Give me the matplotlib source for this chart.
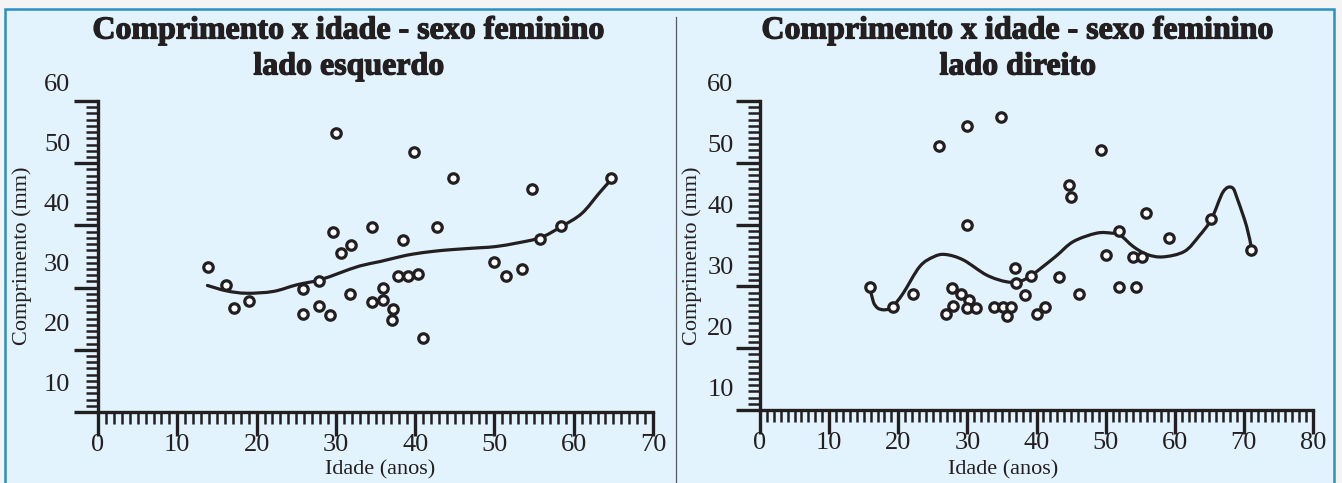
import matplotlib
matplotlib.use("Agg")
import matplotlib.pyplot as plt
from matplotlib.patches import Rectangle, PathPatch
from matplotlib.path import Path
from matplotlib.lines import Line2D
from matplotlib.ticker import FixedLocator, NullLocator
import matplotlib.patheffects as pe
import numpy as np

# ---------------- data ----------------
titles = ["Comprimento x idade - sexo feminino", "Comprimento x idade - sexo feminino"]
subtitles = ["lado esquerdo", "lado direito"]
xlabel = "Idade (anos)"
ylabel = "Comprimento (mm)"
y_tick_labels = [10, 20, 30, 40, 50, 60]
x_ticks_left = [0, 10, 20, 30, 40, 50, 60, 70]
x_ticks_right = [0, 10, 20, 30, 40, 50, 60, 70, 80]

left_age = [13.9, 16.2, 17.1, 19.0, 25.8, 25.8, 27.9, 27.9, 29.3, 29.7, 30.0, 30.7,
            31.9, 31.8, 34.6, 34.6, 36.0, 35.9, 37.2, 37.1, 38.5, 37.9, 39.1, 40.3,
            39.8, 41.0, 42.7, 44.8, 49.9, 51.5, 53.5, 54.7, 55.8, 58.4, 64.7]
left_len = [29.2, 26.2, 22.5, 23.6, 25.6, 21.4, 26.9, 22.7, 21.3, 35.2, 51.6, 31.6,
            32.9, 24.7, 35.9, 23.4, 25.8, 23.8, 22.3, 20.5, 33.8, 27.8, 27.8, 28.1,
            48.5, 17.5, 36.0, 44.2, 30.2, 27.7, 28.9, 42.3, 34.0, 36.1, 44.1]

left_curve_age = [13.8, 16.2, 18.75, 22.1, 25.05, 27.9, 30.5, 33.0, 35.6, 38.1, 39.8,
                  42.3, 44.8, 48.2, 50.2, 52.9, 55.85, 58.4, 61.0, 63.2, 64.4]
left_curve_len = [26.2, 25.3, 24.9, 25.2, 26.3, 27.1, 28.3, 29.45, 30.2, 31.0, 31.45,
                  31.9, 32.2, 32.5, 32.7, 33.3, 34.2, 36.0, 38.2, 41.6, 43.4]

right_age = [15.9, 19.2, 22.1, 25.9, 26.9, 27.8, 27.9, 29.1, 30.0, 29.9, 30.2, 29.9,
             31.2, 33.8, 34.9, 35.1, 36.3, 35.8, 36.9, 37.1, 38.3, 39.2, 40.1, 41.3,
             43.3, 44.7, 45.0, 46.2, 49.3, 50.1, 51.9, 52.0, 53.9, 54.4, 55.3, 55.8,
             59.1, 65.3, 71.1]
right_len = [26.4, 23.2, 25.3, 49.7, 22.0, 26.3, 23.3, 25.3, 53.0, 36.6, 24.3, 23.0,
             23.0, 23.1, 54.4, 23.1, 23.1, 21.7, 29.5, 27.1, 25.2, 28.3, 22.0, 23.2,
             28.1, 43.2, 41.2, 25.3, 49.0, 31.7, 26.4, 35.7, 31.3, 26.5, 31.3, 38.7,
             34.5, 37.6, 32.6]

right_curve_age = [15.9, 16.4, 17.0, 17.8, 18.6, 19.2, 20.7, 23.1, 25.1, 26.8, 29.4,
                   32.8, 35.7, 37.6, 39.2, 42.7, 45.3, 48.7, 50.9, 52.1, 54.0, 56.0,
                   58.3, 61.4, 63.5, 65.3, 67.0, 68.3, 69.1, 70.4, 71.1]
right_curve_len = [26.4, 24.0, 23.0, 22.7, 22.8, 23.2, 25.4, 29.8, 31.4, 31.8, 30.9,
                   28.4, 27.3, 27.4, 28.3, 31.4, 33.9, 35.3, 35.3, 35.0, 33.1, 31.8,
                   31.4, 32.3, 34.8, 37.6, 42.1, 42.8, 40.8, 36.4, 32.8]

# ---------------- style ----------------
W, H = 1342, 483
INK = "#231f20"
BG = "#e2f3fd"
FONT = "Liberation Serif"


def smooth_path(xs, ys):
    """Catmull-Rom curve through the read points, as cubic Bezier segments."""
    pts = np.column_stack([xs, ys]).astype(float)
    verts = [pts[0]]
    codes = [Path.MOVETO]
    n = len(pts)
    for k in range(n - 1):
        p0 = pts[k - 1] if k > 0 else pts[k]
        p1 = pts[k]
        p2 = pts[k + 1]
        p3 = pts[k + 2] if k + 2 < n else pts[k + 1]
        c1 = p1 + (p2 - p0) / 6.0
        c2 = p2 - (p3 - p1) / 6.0
        verts += [c1, c2, p2]
        codes += [Path.CURVE4] * 3
    return Path(np.array(verts), codes)


fig = plt.figure(figsize=(W / 100, H / 100), dpi=100)
fig.patch.set_facecolor("#f4f4f4")
bg = Rectangle((5 / W, -0.01), (1334 - 5) / W, (H - 9) / H + 0.01,
               transform=fig.transFigure, facecolor=BG,
               edgecolor="#2b8fc1", linewidth=1.8)
bg.set_zorder(-10)
fig.add_artist(bg)
div = Line2D([676 / W, 676 / W], [0, (H - 17) / H], transform=fig.transFigure,
             color="#555a60", linewidth=0.9)
div.set_zorder(-5)
fig.add_artist(div)

panels = [
    dict(x0=98, x1=653, xmax=70, xt=x_ticks_left, ybot_px=412, y10=382.5, y60=83,
         age=left_age, ln=left_len, cage=left_curve_age, cln=left_curve_len,
         tcx=349, ylab_x=22, xlab_x=380, lab_gap=20),
    dict(x0=760, x1=1313, xmax=80, xt=x_ticks_right, ybot_px=410, y10=387, y60=83,
         age=right_age, ln=right_len, cage=right_curve_age, cln=right_curve_len,
         tcx=1018, ylab_x=692, xlab_x=1003, lab_gap=19),
]

title_fx = [pe.withStroke(linewidth=0.9, foreground=INK)]

for i, p in enumerate(panels):
    top_px = 71
    spine_top_px = 101
    ppu = (p["y10"] - p["y60"]) / 50.0
    ybot = 10 - (p["ybot_px"] - p["y10"]) / ppu
    ytop = 10 + (p["y10"] - top_px) / ppu
    yspine = 10 + (p["y10"] - spine_top_px) / ppu

    ax = fig.add_axes([p["x0"] / W, (H - p["ybot_px"]) / H,
                       (p["x1"] - p["x0"]) / W, (p["ybot_px"] - top_px) / H])
    ax.set_facecolor("none")
    ax.set_xlim(0, p["xmax"])
    ax.set_ylim(ybot, ytop)
    for s in ["top", "right"]:
        ax.spines[s].set_visible(False)
    for s in ["left", "bottom"]:
        ax.spines[s].set_linewidth(2.4)
        ax.spines[s].set_color(INK)
    ax.spines["left"].set_bounds(ybot, yspine)

    # x ticks
    ax.set_xticks(p["xt"])
    ax.set_xticklabels([str(v) for v in p["xt"]], fontfamily=FONT, fontsize=19)
    ax.xaxis.set_minor_locator(FixedLocator(np.arange(0, p["xmax"] + 0.5, 1)))
    ax.tick_params(axis="x", which="major", direction="out", length=17, width=2.4,
                   color=INK, pad=-1, labelcolor=INK)
    ax.tick_params(axis="x", which="minor", direction="out", length=8.5, width=1.8,
                   color=INK)

    # y ticks (marks only)
    step = (yspine - ybot) / 5.0
    ax.yaxis.set_major_locator(FixedLocator([ybot + k * step for k in range(6)]))
    ax.yaxis.set_minor_locator(FixedLocator([ybot + k * step / 10 for k in range(51)]))
    ax.tick_params(axis="y", which="major", direction="out", length=17, width=2.4,
                   color=INK, labelleft=False)
    ax.tick_params(axis="y", which="minor", direction="out", length=8.5, width=1.8,
                   color=INK)

    # y labels
    sec = ax.secondary_yaxis("left", functions=(lambda v: v, lambda v: v))
    sec.spines["left"].set_visible(False)
    sec.set_yticks(y_tick_labels)
    sec.set_yticklabels([str(v) for v in y_tick_labels], fontfamily=FONT, fontsize=19,
                        color=INK)
    sec.yaxis.set_minor_locator(NullLocator())
    sec.tick_params(axis="y", length=0, pad=p["lab_gap"])

    # marks
    ax.add_patch(PathPatch(smooth_path(p["cage"], p["cln"]), facecolor="none",
                           edgecolor=INK, lw=2.3, capstyle="round", zorder=3))
    ax.plot(p["age"], p["ln"], linestyle="none", marker="o", markersize=6.8,
            markerfacecolor="white", markeredgecolor=INK, markeredgewidth=2.3, zorder=4,
            clip_on=False)

    # labels
    ax.set_ylabel(ylabel, fontfamily=FONT, fontsize=16, color=INK)
    ax.yaxis.set_label_coords((p["ylab_x"] - p["x0"]) / (p["x1"] - p["x0"]),
                              (p["ybot_px"] - 256) / (p["ybot_px"] - top_px))
    ax.yaxis.label.set_ha("center")
    ax.yaxis.label.set_va("center")
    ax.set_xlabel(xlabel, fontfamily=FONT, fontsize=16, color=INK)
    ax.xaxis.set_label_coords((p["xlab_x"] - p["x0"]) / (p["x1"] - p["x0"]),
                              (p["ybot_px"] - 470) / (p["ybot_px"] - top_px))
    ax.xaxis.label.set_va("center")

    fig.text(p["tcx"] / W, 1 - 31 / H, titles[i], ha="center", va="center",
             fontfamily=FONT, fontweight="bold", fontsize=23, color=INK,
             path_effects=title_fx)
    fig.text(p["tcx"] / W, 1 - 67 / H, subtitles[i], ha="center", va="center",
             fontfamily=FONT, fontweight="bold", fontsize=23, color=INK,
             path_effects=title_fx)

fig.savefig("out.png", dpi=100, facecolor=fig.get_facecolor())
